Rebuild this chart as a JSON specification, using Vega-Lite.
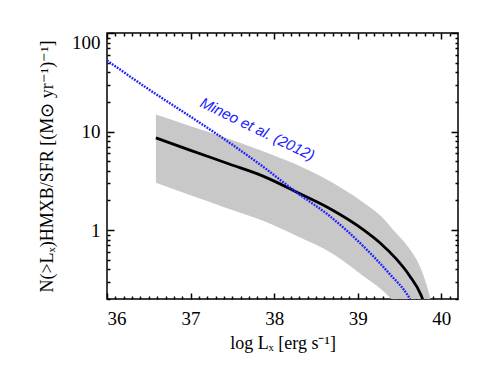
{
  "$schema": "https://vega.github.io/schema/vega-lite/v6.json",
  "width": 351,
  "height": 266,
  "autosize": {"type": "none"},
  "padding": {"left": 107, "top": 33, "right": 33, "bottom": 69},
  "background": "white",
  "config": {
    "view": {"stroke": "black", "strokeWidth": 1.5},
    "axis": {
      "labelFont": "Liberation Serif",
      "labelFontSize": 19,
      "labelColor": "black",
      "titleFont": "Liberation Serif",
      "titleFontSize": 18,
      "titleFontWeight": "normal",
      "titleColor": "black",
      "tickColor": "black",
      "tickWidth": 1.5,
      "domain": false,
      "grid": false,
      "labelOverlap": false,
      "labelBound": false
    }
  },
  "datasets": {
    "band": [
      {"logL": 36.585, "upper": 14.86, "lower": 3.03},
      {"logL": 37.0, "upper": 11.35, "lower": 2.26},
      {"logL": 37.41, "upper": 8.71, "lower": 1.70},
      {"logL": 37.867, "upper": 6.31, "lower": 1.242},
      {"logL": 38.266, "upper": 4.62, "lower": 0.875},
      {"logL": 38.7, "upper": 3.02, "lower": 0.575},
      {"logL": 39.062, "upper": 1.92, "lower": 0.345},
      {"logL": 39.28, "upper": 1.38, "lower": 0.251},
      {"logL": 39.42, "upper": 1.016, "lower": 0.19},
      {"logL": 39.62, "upper": 0.646, "lower": 0.1},
      {"logL": 39.76, "upper": 0.398, "lower": 0.1},
      {"logL": 39.86, "upper": 0.217, "lower": 0.1},
      {"logL": 39.885, "upper": 0.178, "lower": 0.1}
    ],
    "model": [
      {"logL": 36.585, "N": 8.63},
      {"logL": 37.0, "N": 6.45},
      {"logL": 37.47, "N": 4.66},
      {"logL": 37.867, "N": 3.53},
      {"logL": 38.266, "N": 2.44},
      {"logL": 38.664, "N": 1.66},
      {"logL": 39.062, "N": 1.02},
      {"logL": 39.262, "N": 0.75},
      {"logL": 39.461, "N": 0.51},
      {"logL": 39.62, "N": 0.345},
      {"logL": 39.76, "N": 0.217},
      {"logL": 39.79, "N": 0.185}
    ],
    "mineo": [
      {"logL": 36.0, "N": 52.7},
      {"logL": 36.5, "N": 26.8},
      {"logL": 36.992, "N": 14.3},
      {"logL": 37.41, "N": 8.3},
      {"logL": 37.867, "N": 4.4},
      {"logL": 38.266, "N": 2.42},
      {"logL": 38.664, "N": 1.39},
      {"logL": 39.062, "N": 0.693},
      {"logL": 39.381, "N": 0.36},
      {"logL": 39.6, "N": 0.217},
      {"logL": 39.64, "N": 0.19}
    ],
    "label": [
      {"logL": 37.8, "N": 10.6, "text": "Mineo et al. (2012)"}
    ],
    "none": []
  },
  "resolve": {"axis": {"x": "independent", "y": "independent"}},
  "layer": [
    {
      "data": {"name": "band"},
      "mark": {"type": "area", "color": "#c8c8c8", "interpolate": "monotone", "clip": true},
      "encoding": {
        "x": {
          "field": "logL", "type": "quantitative",
          "scale": {"domain": [36, 40.2], "nice": false, "zero": false},
          "axis": {
            "orient": "bottom",
            "values": [36, 37, 38, 39, 40],
            "format": "d",
            "ticks": false,
            "labelPadding": 10,
            "title": "log Lₓ [erg s⁻¹]",
            "titlePadding": 6
          }
        },
        "y": {
          "field": "upper", "type": "quantitative",
          "scale": {"type": "log", "domain": [0.2, 100], "nice": false},
          "axis": {
            "orient": "left",
            "values": [1, 10, 100],
            "format": "d",
            "ticks": false,
            "labelPadding": 7,
            "labelFlush": true,
            "title": "N(>Lₓ)HMXB/SFR [(M⊙ yr⁻¹)⁻¹]",
            "titlePadding": 15
          }
        },
        "y2": {"field": "lower"}
      }
    },
    {
      "data": {"name": "model"},
      "mark": {"type": "line", "color": "black", "strokeWidth": 2.8, "interpolate": "monotone", "clip": true},
      "encoding": {
        "x": {
          "field": "logL", "type": "quantitative",
          "axis": {"orient": "bottom", "values": [36, 37, 38, 39, 40], "tickSize": -6, "labels": false, "title": null}
        },
        "y": {
          "field": "N", "type": "quantitative",
          "axis": {"orient": "left", "values": [1, 10, 100], "tickSize": -7, "labels": false, "title": null}
        }
      }
    },
    {
      "data": {"name": "mineo"},
      "mark": {"type": "line", "color": "#2020ff", "strokeWidth": 2.4, "strokeDash": [1.8, 1.2], "interpolate": "monotone", "clip": true},
      "encoding": {
        "x": {
          "field": "logL", "type": "quantitative",
          "axis": {"orient": "bottom", "values": [36.1,36.2,36.3,36.4,36.5,36.6,36.7,36.8,36.9,37.1,37.2,37.3,37.4,37.5,37.6,37.7,37.8,37.9,38.1,38.2,38.3,38.4,38.5,38.6,38.7,38.8,38.9,39.1,39.2,39.3,39.4,39.5,39.6,39.7,39.8,39.9,40.1], "tickSize": -3, "labels": false, "title": null}
        },
        "y": {
          "field": "N", "type": "quantitative",
          "axis": {"orient": "left", "values": [0.2,0.3,0.4,0.5,0.6,0.7,0.8,0.9,2,3,4,5,6,7,8,9,20,30,40,50,60,70,80,90], "tickSize": -3, "labels": false, "title": null}
        }
      }
    },
    {
      "data": {"name": "label"},
      "mark": {"type": "text", "color": "#2020ff", "font": "Liberation Sans", "fontStyle": "italic", "fontSize": 15, "angle": 26, "align": "center", "baseline": "middle"},
      "encoding": {
        "x": {
          "field": "logL", "type": "quantitative",
          "axis": {"orient": "top", "values": [36, 37, 38, 39, 40], "tickSize": -6, "labels": false, "title": null}
        },
        "y": {
          "field": "N", "type": "quantitative",
          "axis": {"orient": "right", "values": [1, 10, 100], "tickSize": -7, "labels": false, "title": null}
        },
        "text": {"field": "text", "type": "nominal"}
      }
    },
    {
      "data": {"name": "none"},
      "mark": {"type": "point", "opacity": 0},
      "encoding": {
        "x": {
          "field": "logL", "type": "quantitative",
          "axis": {"orient": "top", "values": [36.1,36.2,36.3,36.4,36.5,36.6,36.7,36.8,36.9,37.1,37.2,37.3,37.4,37.5,37.6,37.7,37.8,37.9,38.1,38.2,38.3,38.4,38.5,38.6,38.7,38.8,38.9,39.1,39.2,39.3,39.4,39.5,39.6,39.7,39.8,39.9,40.1], "tickSize": -3, "labels": false, "title": null}
        },
        "y": {
          "field": "N", "type": "quantitative",
          "axis": {"orient": "right", "values": [0.2,0.3,0.4,0.5,0.6,0.7,0.8,0.9,2,3,4,5,6,7,8,9,20,30,40,50,60,70,80,90], "tickSize": -3, "labels": false, "title": null}
        }
      }
    }
  ]
}
